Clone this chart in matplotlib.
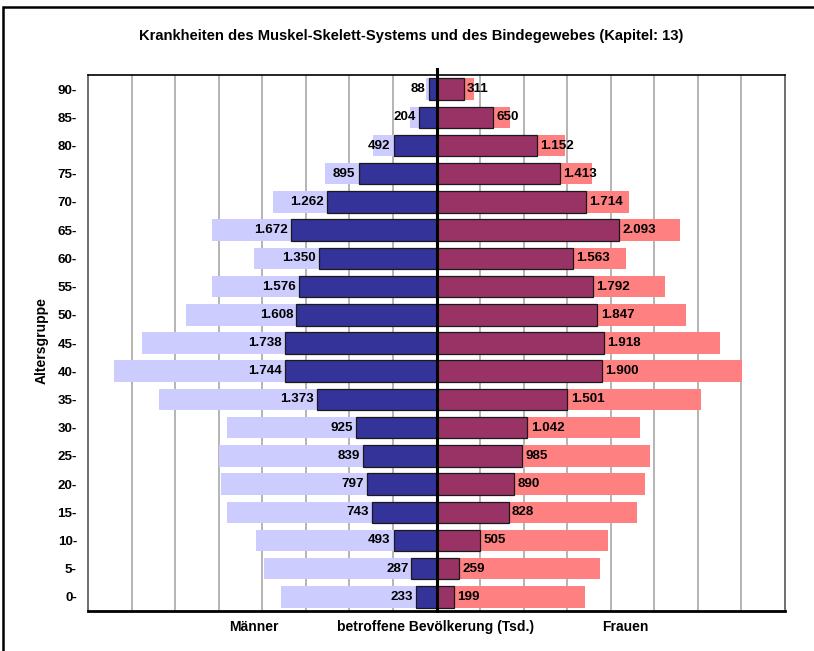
import matplotlib
matplotlib.use("Agg")
import matplotlib.pyplot as plt
from matplotlib.patches import Rectangle

plt.rcParams["font.family"] = ["Liberation Sans", "DejaVu Sans"]

# Age groups (lower bound of each five-year class)
age_groups = ["0-", "5-", "10-", "15-", "20-", "25-", "30-", "35-", "40-", "45-",
              "50-", "55-", "60-", "65-", "70-", "75-", "80-", "85-", "90-"]

# Affected population in thousands
men_affected = [233, 287, 493, 743, 797, 839, 925, 1373, 1744, 1738,
                1608, 1576, 1350, 1672, 1262, 895, 492, 204, 88]
women_affected = [199, 259, 505, 828, 890, 985, 1042, 1501, 1900, 1918,
                  1847, 1792, 1563, 2093, 1714, 1413, 1152, 650, 311]

# Total population in thousands
men_total = [1790, 1975, 2070, 2410, 2470, 2500, 2410, 3180, 3700, 3375,
             2880, 2580, 2100, 2580, 1880, 1285, 725, 300, 120]
women_total = [1700, 1880, 1965, 2300, 2390, 2445, 2340, 3040, 3510, 3250,
               2860, 2620, 2180, 2800, 2215, 1780, 1470, 838, 425]

title = "Krankheiten des Muskel-Skelett-Systems und des Bindegewebes (Kapitel: 13)"

c_men_fg = "#333399"
c_men_bg = "#CCCCFF"
c_women_fg = "#993366"
c_women_bg = "#FF8080"


def de_fmt(v):
    return f"{v:,}".replace(",", ".")


W, H = 814, 651
fig = plt.figure(figsize=(W / 100, H / 100), dpi=100)
ax = fig.add_axes([88 / W, 1 - 611 / H, (785 - 88) / W, (611 - 75) / H])

y = list(range(len(age_groups)))
h = 0.76

ax.barh(y, [-v for v in men_total], height=h, color=c_men_bg, zorder=2)
ax.barh(y, women_total, height=h, color=c_women_bg, zorder=2)
ax.barh(y, [-v for v in men_affected], height=h, color=c_men_fg,
        edgecolor="#1a1a1a", linewidth=0.9, zorder=3)
ax.barh(y, women_affected, height=h, color=c_women_fg,
        edgecolor="#1a1a1a", linewidth=0.9, zorder=3)

for yi, m, w in zip(y, men_affected, women_affected):
    ax.text(-m - 35, yi, de_fmt(m), ha="right", va="center",
            fontsize=9.6, fontweight="bold", color="black", zorder=5)
    ax.text(w + 40, yi, de_fmt(w), ha="left", va="center",
            fontsize=9.6, fontweight="bold", color="black", zorder=5)

ax.set_xlim(-4000, 4000)
ax.set_ylim(-0.5, len(age_groups) - 0.5)

ax.set_xticks(range(-3500, 4000, 500))
ax.set_xticklabels([])
ax.tick_params(axis="x", length=0)
ax.grid(axis="x", color="#a0a0a0", linewidth=1.1, zorder=0)
ax.set_axisbelow(True)

ax.set_yticks(y)
ax.set_yticklabels(age_groups, fontsize=9.6, fontweight="bold")
ax.tick_params(axis="y", length=0, pad=8)

# Center axis line reaching slightly above the plot frame
ax.plot([0, 0], [-0.5, len(age_groups) - 0.5 + 0.2], color="black",
        linewidth=2.2, zorder=6, clip_on=False)

for side in ("left", "right"):
    ax.spines[side].set_color("#555555")
    ax.spines[side].set_linewidth(1.2)
ax.spines["top"].set_color("black")
ax.spines["top"].set_linewidth(1.2)
ax.spines["bottom"].set_color("black")
ax.spines["bottom"].set_linewidth(2.0)

fig.text(42 / W, 1 - 341 / H, "Altersgruppe", rotation=90, ha="center",
         va="center", fontsize=10, fontweight="bold")

fig.text(411 / W, 1 - 36 / H, title, ha="center", va="center",
         fontsize=10.6, fontweight="bold")

fig.text(254 / W, 1 - 627 / H, "Männer", ha="center", va="center",
         fontsize=10, fontweight="bold")
fig.text(436 / W, 1 - 627 / H, "betroffene Bevölkerung (Tsd.)", ha="center",
         va="center", fontsize=10, fontweight="bold")
fig.text(625 / W, 1 - 627 / H, "Frauen", ha="center", va="center",
         fontsize=10, fontweight="bold")

# Outer chart border
fig.patches.append(Rectangle((3 / W, -0.1), 1.2, 1.1 - 7 / H,
                             transform=fig.transFigure, fill=False,
                             edgecolor="black", linewidth=1.8))

fig.savefig("out.png", dpi=100)
